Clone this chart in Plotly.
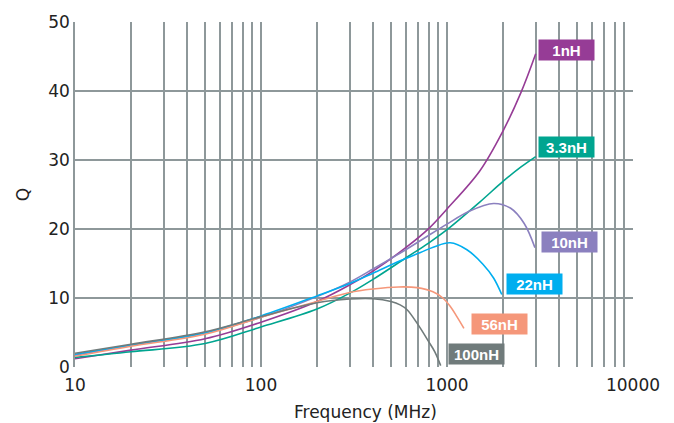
import plotly.graph_objects as go

# ---- data ----
f_1nH = [10, 20, 50, 100, 200, 300, 400, 600, 800, 1000, 1500, 2000, 2500, 3000]
q_1nH = [1.2, 2.45, 4.1, 6.5, 9.5, 11.9, 13.9, 17.3, 20.1, 22.9, 28.4, 34.2, 39.8, 45.4]

f_3nH = [10, 20, 50, 100, 200, 300, 400, 600, 800, 1000, 1500, 2000, 2500, 3000]
q_3nH = [1.4, 2.2, 3.4, 5.8, 8.4, 10.7, 12.7, 15.8, 18.0, 19.9, 23.9, 26.9, 29.0, 30.5]

f_10nH = [10, 20, 50, 100, 200, 300, 400, 600, 800, 1000, 1300, 1780, 2200, 2600, 2970]
q_10nH = [1.7, 3.15, 4.95, 7.2, 10.2, 12.3, 14.2, 17.0, 19.1, 20.7, 22.5, 23.7, 23.0, 20.8, 17.3]

f_22nH = [10, 20, 50, 100, 200, 300, 400, 560, 720, 850, 1040, 1280, 1560, 1780, 1970]
q_22nH = [1.85, 3.2, 4.95, 7.4, 10.3, 12.1, 13.6, 15.4, 16.6, 17.4, 18.0, 17.0, 14.9, 12.9, 10.5]

f_56nH = [10, 20, 50, 100, 200, 300, 400, 550, 690, 840, 950, 1040, 1130, 1233]
q_56nH = [1.55, 3.0, 4.75, 7.2, 9.5, 10.8, 11.3, 11.6, 11.5, 10.9, 10.0, 8.8, 7.3, 5.6]

f_100nH = [10, 20, 50, 100, 200, 300, 400, 500, 560, 610, 700, 800, 860, 925]
q_100nH = [2.0, 3.3, 5.1, 7.3, 9.3, 9.85, 9.9, 9.5, 9.0, 8.3, 6.1, 3.6, 2.2, 0.2]

names = ["1nH", "3.3nH", "10nH", "22nH", "56nH", "100nH"]
freqs = [f_1nH, f_3nH, f_10nH, f_22nH, f_56nH, f_100nH]
qs = [q_1nH, q_3nH, q_10nH, q_22nH, q_56nH, q_100nH]
colors = ["#963c96", "#00a590", "#8b80bf", "#00aeef", "#f5977a", "#707b7b"]

# label box centres (log10 freq, Q)
label_x = [3.645, 3.645, 3.66, 3.47, 3.28, 3.16]
label_y = [45.97, 31.9, 18.1, 12.0, 6.2, 1.9]

x_ticks = [10, 100, 1000, 10000]
y_ticks = [0, 10, 20, 30, 40, 50]
minor_vals = [k * 10 ** d for d in range(1, 4) for k in range(2, 10)]

grid_col = "#8e989a"
font_fam = "'DejaVu Sans', sans-serif"

fig = go.Figure()
for n, fx, qy, c in zip(names, freqs, qs, colors):
    fig.add_trace(go.Scatter(x=fx, y=qy, mode="lines", name=n,
                             line=dict(color=c, width=1.6, shape="spline", smoothing=1.0)))

for n, lx, ly, c in zip(names, label_x, label_y, colors):
    fig.add_annotation(x=lx, y=ly, xref="x", yref="y", text="<b>%s</b>" % n,
                       showarrow=False, bgcolor=c, width=53, height=18, borderpad=1,
                       font=dict(family="Liberation Sans, Arial, sans-serif", size=15, color="white"))

fig.add_annotation(x=0.5215, y=-0.13, xref="paper", yref="paper", text="Frequency (MHz)",
                   showarrow=False, xanchor="center", yanchor="middle",
                   font=dict(family=font_fam, size=17, color="#222222"))

fig.update_layout(
    width=674, height=423,
    margin=dict(l=75, r=41, t=20, b=56),
    paper_bgcolor="white", plot_bgcolor="white",
    showlegend=False,
    font=dict(family=font_fam, size=17, color="#222222"),
)
fig.update_xaxes(type="log", range=[1, 4], tickvals=x_ticks, ticktext=[str(v) for v in x_ticks],
                 showgrid=True, gridcolor=grid_col, gridwidth=1.5,
                 minor=dict(tickvals=minor_vals, showgrid=True, gridcolor=grid_col, gridwidth=1.5, ticks=""),
                 showline=False, zeroline=False, ticks="", ticklen=0,
                 ticklabelstandoff=6, tickfont=dict(size=17))
fig.update_yaxes(range=[0, 50], tickvals=y_ticks, showgrid=True, gridcolor=grid_col, gridwidth=1.5,
                 showline=True, linecolor=grid_col, linewidth=1.5,
                 zeroline=False, ticks="", tickfont=dict(size=17),
                 title=dict(text="Q", font=dict(size=17), standoff=14))

fig.write_html("out.html")
